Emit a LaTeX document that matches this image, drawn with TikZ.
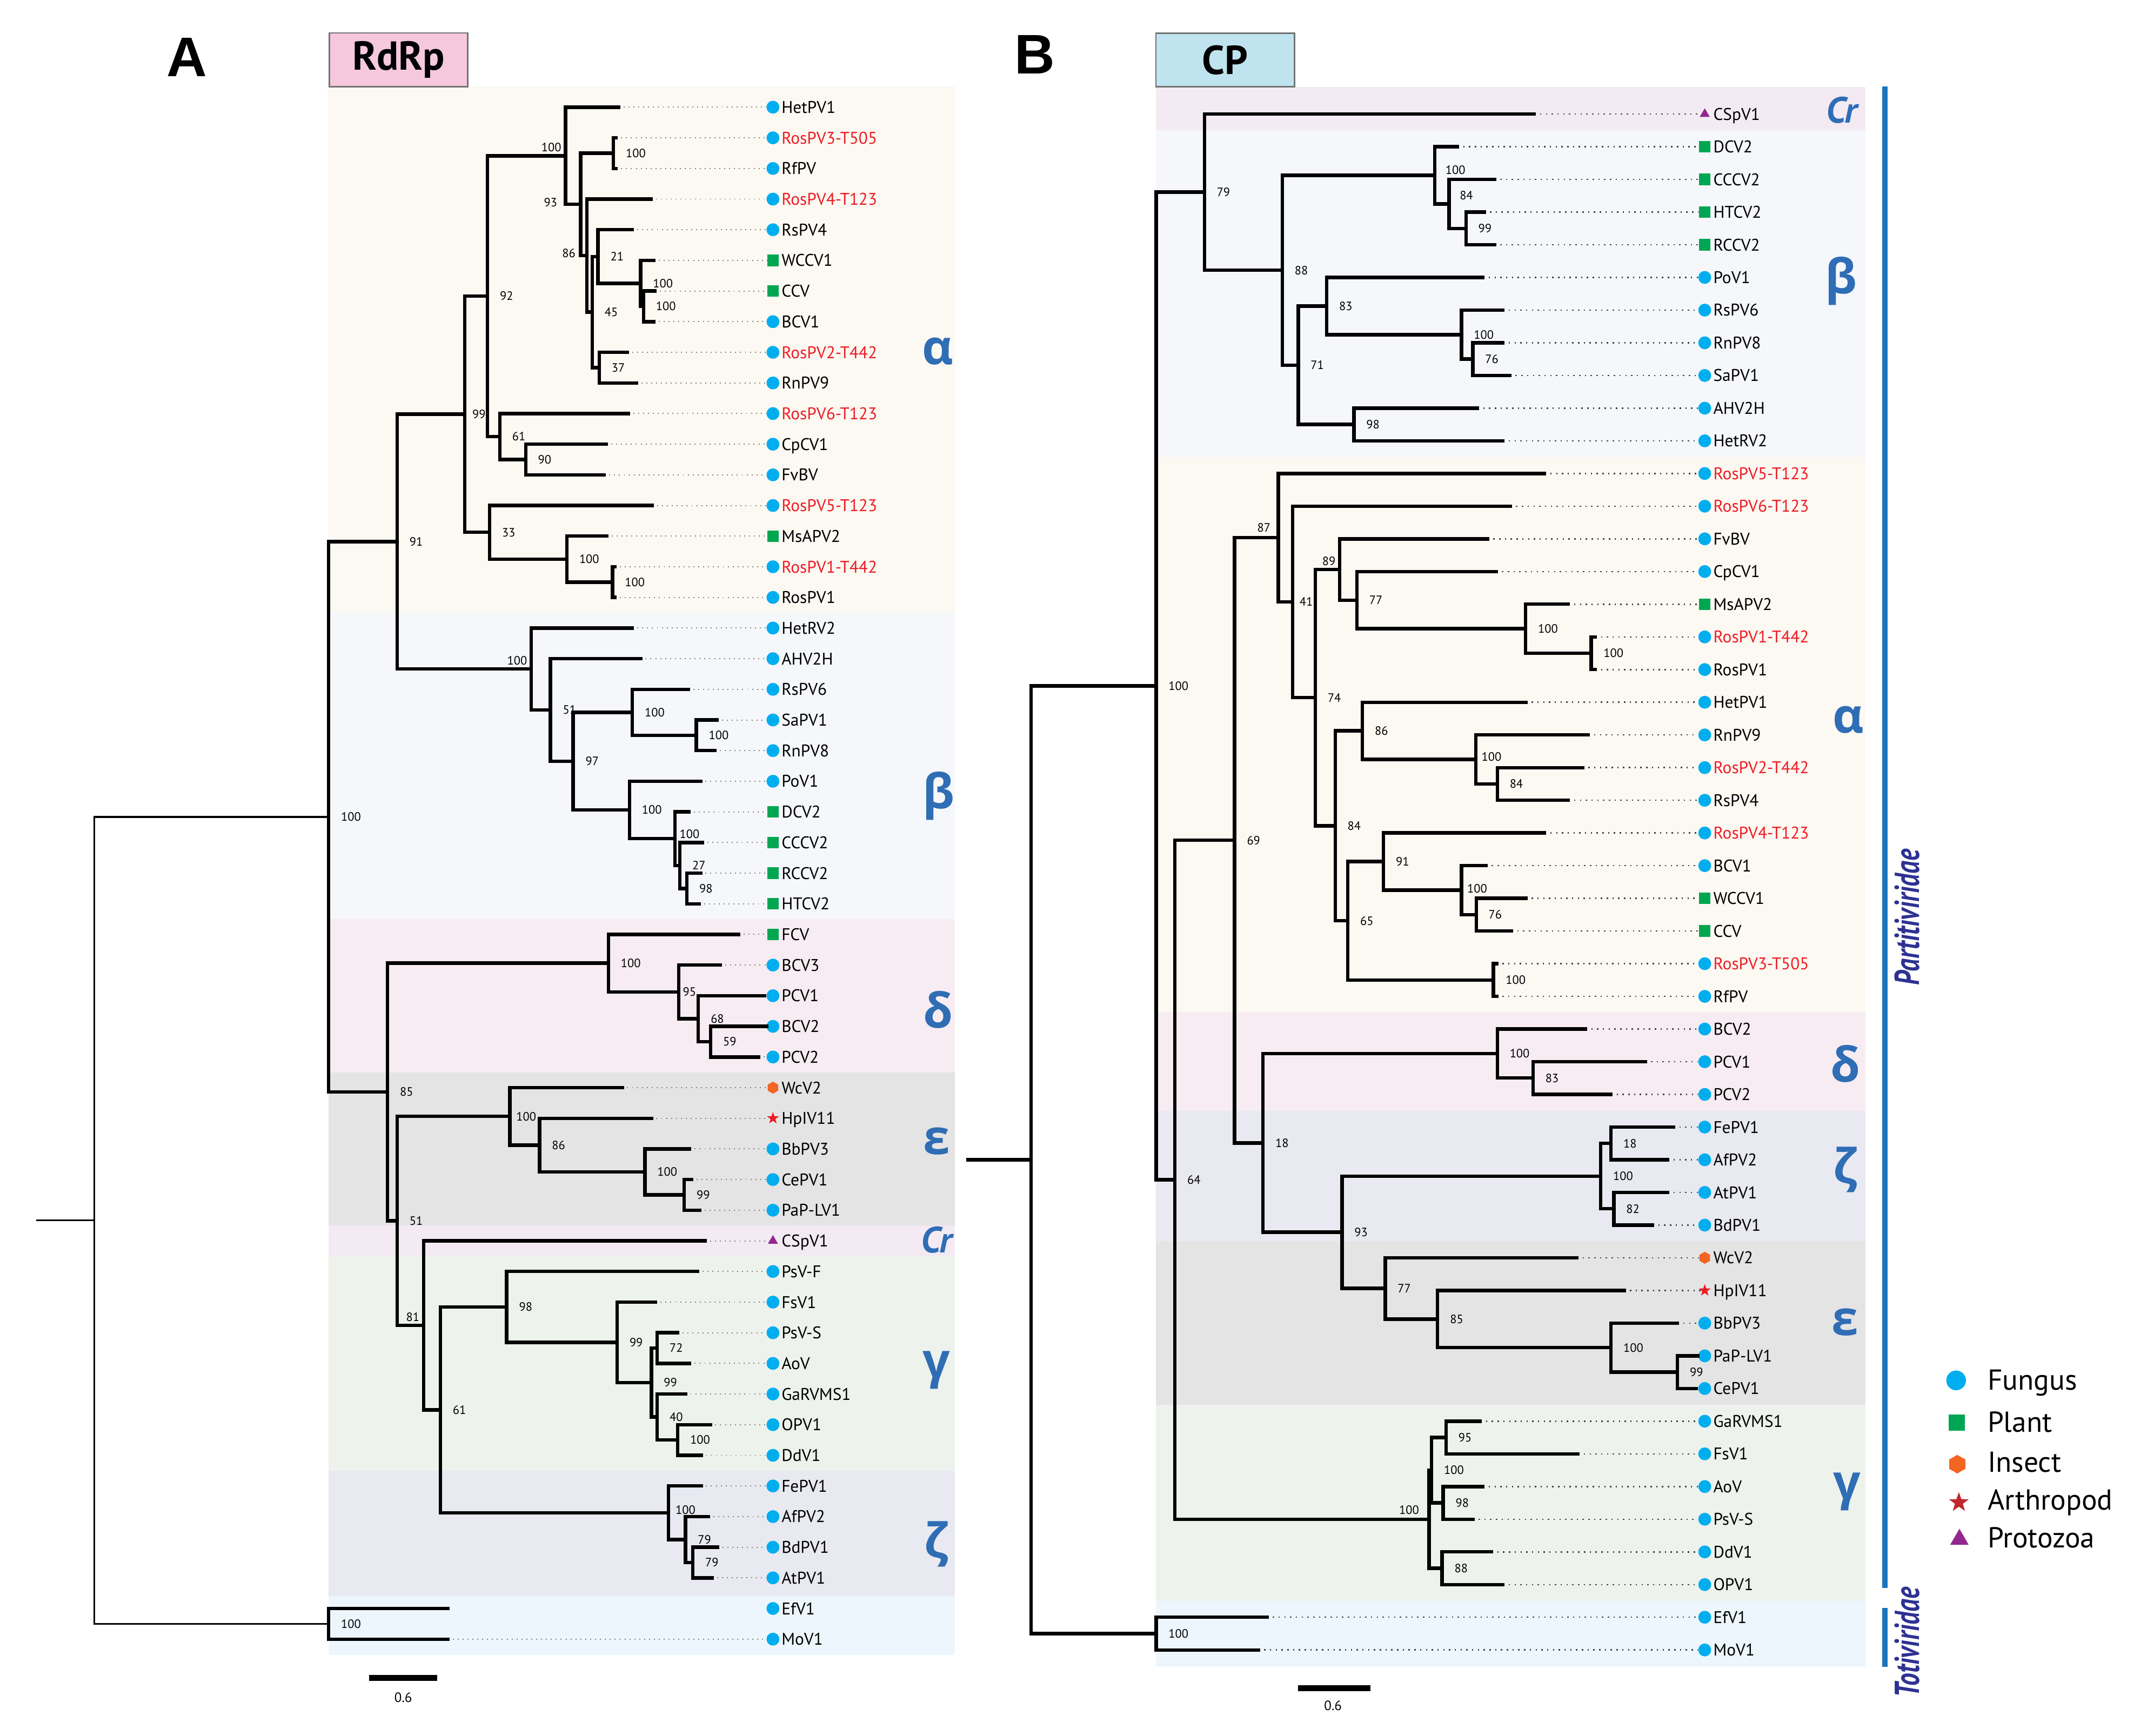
\documentclass[tikz,border=0pt]{standalone}
\usepackage{fontspec}
\usepackage{graphicx}
\setmainfont{PT Sans}
\newfontfamily\greekfont{Open Sans}
\newfontfamily\panelfont{Liberation Sans}
\usetikzlibrary{calc,shapes.geometric}

\definecolor{fungus}{HTML}{00AEEF}
\definecolor{plant}{HTML}{00A651}
\definecolor{insect}{HTML}{F26522}
\definecolor{arthro}{HTML}{ED1C24}
\definecolor{arthroleg}{HTML}{C1272D}
\definecolor{protozoa}{HTML}{92278F}
\definecolor{rosred}{HTML}{ED1C24}
\definecolor{cladeblue}{HTML}{2F6DB5}
\definecolor{famblue}{HTML}{1B75BC}
\definecolor{famtext}{HTML}{2E3192}
\definecolor{rdrppink}{HTML}{F6C8DE}
\definecolor{cpblue}{HTML}{BFE4EF}
\definecolor{bgalpha}{HTML}{FCF8F2}
\definecolor{bgbeta}{HTML}{F5F7FB}
\definecolor{bgdelta}{HTML}{F7ECF2}
\definecolor{bgeps}{HTML}{E4E4E4}
\definecolor{bgcr}{HTML}{F3EAF3}
\definecolor{bggamma}{HTML}{EEF2EC}
\definecolor{bgzeta}{HTML}{E8E9F1}
\definecolor{bgtoti}{HTML}{ECF6FC}

\tikzset{
  branch/.style={line width=1.8pt, line cap=rect},
  leaderA/.style={black!50, dotted, line width=0.55pt},
  leaderB/.style={black!75, line width=0.7pt, dash pattern=on 0.7pt off 2.3pt},
  tiplabel/.style={anchor=west, inner sep=0pt, text height=6.2pt, text depth=0pt, font=\fontsize{8.8}{10}\selectfont},
  bs/.style={inner sep=0pt, text height=4.4pt, text depth=0pt, font=\fontsize{6.3}{7}\selectfont},
  bsr/.style={anchor=west, xshift=2.2mm},
  bsa/.style={anchor=south east, xshift=-0.7mm, yshift=0.7mm},
  fungus/.style={circle, fill=fungus, inner sep=0pt, minimum size=2.35mm},
  plant/.style={rectangle, fill=plant, inner sep=0pt, minimum size=2.1mm},
  insect/.style={regular polygon, regular polygon sides=6, shape border rotate=30, fill=insect, inner sep=0pt, minimum size=2.2mm},
  arthropod/.style={star, star points=5, star point ratio=2.5, fill=arthro, inner sep=0pt, minimum size=2.3mm},
  protozoa/.style={regular polygon, regular polygon sides=3, fill=protozoa, inner sep=0pt, minimum size=2.1mm},
  cladetag/.style={text=cladeblue, inner sep=0pt, font=\greekfont\bfseries\fontsize{25}{25}\selectfont},
  crtag/.style={text=cladeblue, inner sep=0pt, font=\bfseries\itshape\fontsize{19}{19}\selectfont},
  famline/.style={famblue, line width=1mm},
  famlabel/.style={text=famtext, rotate=90, inner sep=0pt, font=\bfseries\itshape\fontsize{18}{18}\selectfont},
  headbox/.style={draw=black!55, line width=0.8pt, minimum width=25.3mm, minimum height=9.8mm, inner sep=0pt, font=\bfseries\fontsize{21}{21}\selectfont},
  panel/.style={inner sep=0pt, font=\panelfont\bfseries\fontsize{29}{29}\selectfont},
  legtext/.style={anchor=west, inner sep=0pt, text height=10.5pt, text depth=0pt, font=\fontsize{15}{16}\selectfont},
  scalebar/.style={line width=1.1mm},
  scalelabel/.style={inner sep=0pt, font=\fontsize{7}{8}\selectfont}
}

% tips: [label/leader options]{name}{row}{branch end}{host}{text}
\newcommand\tipA[6][]{%
  \coordinate (#2) at (#4,{78.3+22.38*#3});
  \node[#5] (#2m) at (564.5,{78.3+22.38*#3}) {};
  \node[tiplabel,#1] at (570.5,{78.3+22.38*#3}) {#6};
  \draw[leaderA,#1] (#2) -- (#2m.west);}
\newcommand\tipB[6][]{%
  \coordinate (#2) at (#4,{83.3+23.87*#3});
  \node[#5] (#2m) at (1245,{83.3+23.87*#3}) {};
  \node[tiplabel,#1] at (1251,{83.3+23.87*#3}) {#6};
  \draw[leaderB,#1] (#2) -- (#2m.west);}
% internal node: [style]{name}{x}{upper child}{lower child}{label pos}{support}
\newcommand\clade[7][]{%
  \coordinate (#2h) at ($(#4)!0.5!(#5)$);
  \coordinate (#2v) at (#3,0);
  \coordinate (#2) at (#2v |- #2h);
  \draw[branch,#1] (#4) -| (#2) |- (#5);
  \node[bs,#6] at (#2) {#7};}

\begin{document}
\begin{tikzpicture}[x=0.25mm, y=-0.25mm]
    \useasboundingbox (0,0) rectangle (1568,1268);

    % clade bands
    \foreach \c/\t/\b in {bgalpha/63/447.6, bgbeta/447.6/671.4, bgdelta/671.4/783.3, bgeps/783.3/895.2,
        bgcr/895.2/917.6, bggamma/917.6/1074.2, bgzeta/1074.2/1166, bgtoti/1166/1209}
        \fill[\c] (240,\t) rectangle (697.3,\b);
    \foreach \c/\t/\b in {bgcr/63.5/95.2, bgbeta/95.2/333.9, bgalpha/333.9/739.7, bgdelta/739.7/811.3,
        bgzeta/811.3/906.8, bgeps/906.8/1026.2, bggamma/1026.2/1169.4, bgtoti/1169.4/1217.3}
        \fill[\c] (844.3,\t) rectangle (1362.3,\b);

    % headers
    \node[panel] (pA) at (136.3,42) {A};
    \node[panel] (pB) at (755.5,39.7) {B};
    \node[headbox, fill=rdrppink] (hRdRp) at (291.1,43.7) {RdRp};
    \node[headbox, fill=cpblue] (hCP) at (894.8,43.8) {CP};

    % ---------- A: RdRp tree ----------
    \tipA{aHetPV1}{0}{451.8}{fungus}{HetPV1}
    \tipA[text=rosred]{aRosPV3}{1}{450}{fungus}{RosPV3-T505}
    \tipA{aRfPV}{2}{450}{fungus}{RfPV}
    \tipA[text=rosred]{aRosPV4}{3}{475.4}{fungus}{RosPV4-T123}
    \tipA{aRsPV4}{4}{461.8}{fungus}{RsPV4}
    \tipA{aWCCV1}{5}{477.5}{plant}{WCCV1}
    \tipA{aCCV}{6}{478.4}{plant}{CCV}
    \tipA{aBCV1}{7}{477.5}{fungus}{BCV1}
    \tipA[text=rosred]{aRosPV2}{8}{458}{fungus}{RosPV2-T442}
    \tipA{aRnPV9}{9}{464.8}{fungus}{RnPV9}
    \tipA[text=rosred]{aRosPV6}{10}{458.8}{fungus}{RosPV6-T123}
    \tipA{aCpCV1}{11}{442.8}{fungus}{CpCV1}
    \tipA{aFvBV}{12}{441.3}{fungus}{FvBV}
    \tipA[text=rosred]{aRosPV5}{13}{476.3}{fungus}{RosPV5-T123}
    \tipA{aMsAPV2}{14}{443}{plant}{MsAPV2}
    \tipA[text=rosred]{aRosPV1T}{15}{449}{fungus}{RosPV1-T442}
    \tipA{aRosPV1}{16}{449}{fungus}{RosPV1}
    \tipA{aHetRV2}{17}{461.8}{fungus}{HetRV2}
    \tipA{aAHV2H}{18}{467.8}{fungus}{AHV2H}
    \tipA{aRsPV6}{19}{502.6}{fungus}{RsPV6}
    \tipA{aSaPV1}{20}{523.7}{fungus}{SaPV1}
    \tipA{aRnPV8}{21}{522}{fungus}{RnPV8}
    \tipA{aPoV1}{22}{511.6}{fungus}{PoV1}
    \tipA{aDCV2}{23}{503.2}{plant}{DCV2}
    \tipA{aCCCV2}{24}{513}{plant}{CCCV2}
    \tipA{aRCCV2}{25}{511.6}{plant}{RCCV2}
    \tipA{aHTCV2}{26}{510.5}{plant}{HTCV2}
    \tipA{aFCV}{27}{539.4}{plant}{FCV}
    \tipA{aBCV3}{28}{526}{fungus}{BCV3}
    \tipA{aPCV1}{29}{558.4}{fungus}{PCV1}
    \tipA{aBCV2}{30}{560}{fungus}{BCV2}
    \tipA{aPCV2}{31}{554}{fungus}{PCV2}
    \tipA{aWcV2}{32}{454.4}{insect}{WcV2}
    \tipA{aHpIV11}{33}{475.7}{arthropod}{HpIV11}
    \tipA{aBbPV3}{34}{503.7}{fungus}{BbPV3}
    \tipA{aCePV1}{35}{505}{fungus}{CePV1}
    \tipA{aPaPLV1}{36}{511}{fungus}{PaP-LV1}
    \tipA{aCSpV1}{37}{515}{protozoa}{CSpV1}
    \tipA{aPsVF}{38}{509.6}{fungus}{PsV-F}
    \tipA{aFsV1}{39}{478.8}{fungus}{FsV1}
    \tipA{aPsVS}{40}{495}{fungus}{PsV-S}
    \tipA{aAoV}{41}{503.7}{fungus}{AoV}
    \tipA{aGaRVMS1}{42}{500.6}{fungus}{GaRVMS1}
    \tipA{aOPV1}{43}{518.7}{fungus}{OPV1}
    \tipA{aDdV1}{44}{512}{fungus}{DdV1}
    \tipA{aFePV1}{45}{512}{fungus}{FePV1}
    \tipA{aAfPV2}{46}{517.3}{fungus}{AfPV2}
    \tipA{aBdPV1}{47}{524}{fungus}{BdPV1}
    \tipA{aAtPV1}{48}{520}{fungus}{AtPV1}
    \tipA[draw=none]{aEfV1}{49}{327}{fungus}{EfV1}
    \tipA{aMoV1}{50}{327}{fungus}{MoV1}

    % alpha
    \clade{a100c}{470}{aCCV}{aBCV1}{bsr}{100}
    \clade{a100w}{467.8}{aWCCV1}{a100c}{bsr}{100}
    \clade{a21}{436.7}{aRsPV4}{a100w}{bsr}{21}
    \clade{a37}{437.6}{aRosPV2}{aRnPV9}{bsr}{37}
    \clade{a45}{432.5}{a21}{a37}{bsr}{45}
    \clade{a86}{428.5}{aRosPV4}{a45}{anchor=east,xshift=-2mm,yshift=0.4mm}{86}
    \clade{a100r}{448}{aRosPV3}{aRfPV}{bsr}{100}
    \clade{a93}{424}{a100r}{a86}{anchor=east,xshift=-4.2mm,yshift=0.4mm}{93}
    \clade{a100h}{413}{aHetPV1}{a93}{bsa}{100}
    \clade{a90}{383.9}{aCpCV1}{aFvBV}{bsr}{90}
    \clade{a61}{365}{aRosPV6}{a90}{bsr}{61}
    \clade{a92}{356}{a100h}{a61}{bsr}{92}
    \clade{a100p}{447.3}{aRosPV1T}{aRosPV1}{bsr}{100}
    \clade{a100m}{414}{aMsAPV2}{a100p}{bsr}{100}
    \clade{a33}{357.6}{aRosPV5}{a100m}{bsr}{33}
    \clade{a99}{339.5}{a92}{a33}{anchor=west,xshift=1.3mm}{99}
    % beta
    \clade{a100sa}{508.6}{aSaPV1}{aRnPV8}{bsr}{100}
    \clade{a100s}{461.8}{aRsPV6}{a100sa}{bsr}{100}
    \clade{a98b}{501.7}{aRCCV2}{aHTCV2}{bsr}{98}
    \clade{a27}{496.5}{aCCCV2}{a98b}{bsr}{27}
    \clade{a100d}{492.9}{aDCV2}{a27}{anchor=south west,xshift=0.8mm}{100}
    \clade{a100po}{459.7}{aPoV1}{a100d}{bsr}{100}
    \clade{a97}{418.6}{a100s}{a100po}{bsr}{97}
    \clade{a51b}{402}{aAHV2H}{a97}{bsr}{51}
    \clade{aBeta}{388}{aHetRV2}{a51b}{bsa}{100}
    \clade{a91}{290}{a99}{aBeta}{bsr}{91}
    % delta
    \clade{a59}{519}{aBCV2}{aPCV2}{bsr}{59}
    \clade{a68}{510}{aPCV1}{a59}{bsr}{68}
    \clade{a95}{495.6}{aBCV3}{a68}{anchor=west,xshift=0.7mm}{95}
    \clade{aDelta}{444.3}{aFCV}{a95}{bsr}{100}
    % epsilon
    \clade{a99e}{499.7}{aCePV1}{aPaPLV1}{bsr}{99}
    \clade{a100e}{471}{aBbPV3}{a99e}{bsr}{100}
    \clade{a86e}{394}{aHpIV11}{a100e}{bsr}{86}
    \clade{aEps}{372.4}{aWcV2}{a86e}{anchor=west,xshift=1.1mm}{100}
    % gamma
    \clade{a100o}{495}{aOPV1}{aDdV1}{bsr}{100}
    \clade{a40}{480}{aGaRVMS1}{a100o}{bsr}{40}
    \clade{a72}{480}{aPsVS}{aAoV}{bsr}{72}
    \clade{a99h}{475.7}{a72}{a40}{bsr}{99}
    \clade{a99g}{450.7}{aFsV1}{a99h}{bsr}{99}
    \clade{a98}{370}{aPsVF}{a99g}{bsr}{98}
    % zeta
    \clade{a79b}{506}{aBdPV1}{aAtPV1}{bsr}{79}
    \clade{a79a}{500.6}{aAfPV2}{a79b}{bsr}{79}
    \clade{aZeta}{488.3}{aFePV1}{a79a}{anchor=west,xshift=1.2mm,yshift=0.5mm}{100}
    % deeper nodes
    \clade{a61g}{321.6}{a98}{aZeta}{bsr}{61}
    \clade{a81}{309.4}{aCSpV1}{a61g}{bsa}{81}
    \clade{a51}{290}{aEps}{a81}{bsr}{51}
    \clade{a85}{283}{aDelta}{a51}{bsr}{85}
    \clade{aIn}{240}{a91}{a85}{bsr}{100}
    \clade{aToti}{240}{aEfV1}{aMoV1}{bsr}{100}
    \clade[line width=1pt]{aRoot}{68.9}{aIn}{aToti}{}{}
    \coordinate (aStub) at (27.2,0);
    \draw[branch, line width=1pt] (aRoot) -- (aRoot -| aStub);

    % clade names A
    \node[cladetag] (aTagAlpha) at (685,256.8) {α};
    \node[cladetag] (aTagBeta) at (685.3,581.5) {β};
    \node[cladetag] (aTagDelta) at (685.3,737.7) {δ};
    \node[cladetag] (aTagEps) at (684,833.5) {ε};
    \node[crtag] (aTagCr) at (684,905.8) {Cr};
    \node[cladetag] (aTagGamma) at (684,1001) {γ};
    \node[cladetag] (aTagZeta) at (684,1128) {ζ};

    % scale A
    \coordinate (aSL) at (269.5,1225.6);
    \coordinate (aSR) at (319.4,1225.6);
    \draw[scalebar] (aSL) -- (aSR);
    \node[scalelabel] (aScale) at (294.5,1240) {0.6};

    % ---------- B: CP tree ----------
    \tipB{bCSpV1}{0}{1120.5}{protozoa}{CSpV1}
    \tipB{bDCV2}{1}{1064.4}{plant}{DCV2}
    \tipB{bCCCV2}{2}{1091.4}{plant}{CCCV2}
    \tipB{bHTCV2}{3}{1083.9}{plant}{HTCV2}
    \tipB{bRCCV2}{4}{1091.4}{plant}{RCCV2}
    \tipB{bPoV1}{5}{1083}{fungus}{PoV1}
    \tipB{bRsPV6}{6}{1097.6}{fungus}{RsPV6}
    \tipB{bRnPV8}{7}{1097.6}{fungus}{RnPV8}
    \tipB{bSaPV1}{8}{1102.6}{fungus}{SaPV1}
    \tipB{bAHV2H}{9}{1079}{fungus}{AHV2H}
    \tipB{bHetRV2}{10}{1097.6}{fungus}{HetRV2}
    \tipB[text=rosred]{bRosPV5}{11}{1128}{fungus}{RosPV5-T123}
    \tipB[text=rosred]{bRosPV6}{12}{1103}{fungus}{RosPV6-T123}
    \tipB{bFvBV}{13}{1086.4}{fungus}{FvBV}
    \tipB{bCpCV1}{14}{1092.7}{fungus}{CpCV1}
    \tipB{bMsAPV2}{15}{1145.4}{plant}{MsAPV2}
    \tipB[text=rosred]{bRosPV1T}{16}{1165}{fungus}{RosPV1-T442}
    \tipB{bRosPV1}{17}{1165}{fungus}{RosPV1}
    \tipB{bHetPV1}{18}{1114.3}{fungus}{HetPV1}
    \tipB{bRnPV9}{19}{1160}{fungus}{RnPV9}
    \tipB[text=rosred]{bRosPV2}{20}{1155.8}{fungus}{RosPV2-T442}
    \tipB{bRsPV4}{21}{1145.4}{fungus}{RsPV4}
    \tipB[text=rosred]{bRosPV4}{22}{1128}{fungus}{RosPV4-T123}
    \tipB{bBCV1}{23}{1085.2}{fungus}{BCV1}
    \tipB{bWCCV1}{24}{1114.3}{plant}{WCCV1}
    \tipB{bCCV}{25}{1103.9}{plant}{CCV}
    \tipB[text=rosred]{bRosPV3}{26}{1093}{fungus}{RosPV3-T505}
    \tipB{bRfPV}{27}{1093}{fungus}{RfPV}
    \tipB{bBCV2}{28}{1157.9}{fungus}{BCV2}
    \tipB{bPCV1}{29}{1201.5}{fungus}{PCV1}
    \tipB{bPCV2}{30}{1176.5}{fungus}{PCV2}
    \tipB{bFePV1}{31}{1222.2}{fungus}{FePV1}
    \tipB{bAfPV2}{32}{1218}{fungus}{AfPV2}
    \tipB{bAtPV1}{33}{1218}{fungus}{AtPV1}
    \tipB{bBdPV1}{34}{1206.9}{fungus}{BdPV1}
    \tipB{bWcV2}{35}{1151.6}{insect}{WcV2}
    \tipB{bHpIV11}{36}{1186.1}{arthropod}{HpIV11}
    \tipB{bBbPV3}{37}{1225.1}{fungus}{BbPV3}
    \tipB{bPaPLV1}{38}{1240}{fungus}{PaP-LV1}
    \tipB{bCePV1}{39}{1238.8}{fungus}{CePV1}
    \tipB{bGaRVMS1}{40}{1081}{fungus}{GaRVMS1}
    \tipB{bFsV1}{41}{1152.5}{fungus}{FsV1}
    \tipB{bAoV}{42}{1083}{fungus}{AoV}
    \tipB{bPsVS}{43}{1075.6}{fungus}{PsV-S}
    \tipB{bDdV1}{44}{1089.3}{fungus}{DdV1}
    \tipB{bOPV1}{45}{1097.6}{fungus}{OPV1}
    \tipB{bEfV1}{46}{925.3}{fungus}{EfV1}
    \tipB{bMoV1}{47}{919}{fungus}{MoV1}

    % Cr + beta
    \clade{b99a}{1070.6}{bHTCV2}{bRCCV2}{bsr}{99}
    \clade{b84a}{1058.2}{bCCCV2}{b99a}{anchor=south west,xshift=1.9mm,yshift=0.75mm}{84}
    \clade{bDCV}{1047.8}{bDCV2}{b84a}{anchor=south west,xshift=1.9mm,yshift=0.15mm}{100}
    \clade{b76a}{1075.6}{bRnPV8}{bSaPV1}{bsr}{76}
    \clade{b100r}{1067.3}{bRsPV6}{b76a}{bsr}{100}
    \clade{b83}{968.9}{bPoV1}{b100r}{bsr}{83}
    \clade{b98}{988.8}{bAHV2H}{bHetRV2}{bsr}{98}
    \clade{b71}{948.1}{b83}{b98}{bsr}{71}
    \clade{b88}{936.5}{bDCV}{b71}{bsr}{88}
    \clade{b79}{879.6}{bCSpV1}{b88}{bsr}{79}
    % alpha
    \clade{b100p}{1162}{bRosPV1T}{bRosPV1}{bsr}{100}
    \clade{b100m}{1114.2}{bMsAPV2}{b100p}{bsr}{100}
    \clade{b77}{990.9}{bCpCV1}{b100m}{bsr}{77}
    \clade{b89}{978.4}{bFvBV}{b77}{bsa}{89}
    \clade{b84c}{1093.5}{bRosPV2}{bRsPV4}{bsr}{84}
    \clade{b100n}{1077.7}{bRnPV9}{b84c}{anchor=west,xshift=1mm,yshift=0.5mm}{100}
    \clade{b86}{995}{bHetPV1}{b100n}{bsr}{86}
    \clade{b76b}{1078.1}{bWCCV1}{bCCV}{bsr}{76}
    \clade{b100w}{1067.3}{bBCV1}{b76b}{anchor=west,xshift=1mm,yshift=0.3mm}{100}
    \clade{b91}{1010.4}{bRosPV4}{b100w}{bsr}{91}
    \clade{b100q}{1090.6}{bRosPV3}{bRfPV}{bsr}{100}
    \clade{b65}{984.3}{b91}{b100q}{bsr}{65}
    \clade{b84b}{975.1}{b86}{b65}{bsr}{84}
    \clade{b74}{960.6}{b89}{b84b}{bsr}{74}
    \clade{b41}{944}{bRosPV6}{b74}{anchor=west,xshift=1.2mm}{41}
    \clade{b87}{933.6}{bRosPV5}{b41}{anchor=south east,xshift=-1.35mm,yshift=0.95mm}{87}
    % delta
    \clade{b83d}{1119.6}{bPCV1}{bPCV2}{bsr}{83}
    \clade{bDelta}{1093.5}{bBCV2}{b83d}{bsr}{100}
    % zeta
    \clade{b18z}{1176.5}{bFePV1}{bAfPV2}{bsr}{18}
    \clade{b82}{1178.6}{bAtPV1}{bBdPV1}{bsr}{82}
    \clade{bZeta}{1169}{b18z}{b82}{bsr}{100}
    % epsilon
    \clade{b99c}{1225.1}{bPaPLV1}{bCePV1}{bsr}{99}
    \clade{b100e}{1176.5}{bBbPV3}{b99c}{bsr}{100}
    \clade{b85}{1049.9}{bHpIV11}{b100e}{bsr}{85}
    \clade{b77e}{1011.7}{bWcV2}{b85}{bsr}{77}
    \clade{b93}{980.1}{bZeta}{b77e}{bsr}{93}
    \clade{b18}{922.4}{bDelta}{b93}{bsr}{18}
    \clade{b69}{901.6}{b87}{b18}{bsr}{69}
    % gamma
    \clade{b95}{1056.1}{bGaRVMS1}{bFsV1}{bsr}{95}
    \clade{b98g}{1054}{bAoV}{bPsVS}{bsr}{98}
    \clade{bG1}{1045.5}{b95}{b98g}{bsr}{100}
    \clade{b88g}{1053.2}{bDdV1}{bOPV1}{bsr}{88}
    \clade{bGamma}{1043.6}{bG1}{b88g}{anchor=south east,xshift=-1.75mm,yshift=0.8mm}{100}
    % deeper nodes
    \clade{b64}{858}{b69}{bGamma}{bsr}{64}
    \clade{bIn}{844.3}{b79}{b64}{bsr}{100}
    \clade{bToti}{844.3}{bEfV1}{bMoV1}{bsr}{100}
    \clade{bRoot}{752.9}{bIn}{bToti}{}{}
    \coordinate (bStub) at (707,0);
    \draw[branch] (bRoot) -- (bRoot -| bStub);

    % clade names B
    \node[crtag] (bTagCr) at (1345,80.5) {Cr};
    \node[cladetag] (bTagBeta) at (1344.7,205.3) {β};
    \node[cladetag] (bTagAlpha) at (1350,525.7) {α};
    \node[cladetag] (bTagDelta) at (1347.6,776.9) {δ};
    \node[cladetag] (bTagZeta) at (1347.6,854.6) {ζ};
    \node[cladetag] (bTagEps) at (1347.6,966) {ε};
    \node[cladetag] (bTagGamma) at (1348.9,1089.5) {γ};

    % scale B
    \coordinate (bSL) at (948.1,1233.2);
    \coordinate (bSR) at (1000.9,1233.2);
    \draw[scalebar] (bSL) -- (bSR);
    \node[scalelabel] (bScale) at (973.5,1246) {0.6};

    % families
    \coordinate (famTop) at (1376.5,63.1);
    \coordinate (famBot) at (1376.5,1160);
    \coordinate (totTop) at (1376.5,1174.5);
    \coordinate (totBot) at (1376.5,1217.5);
    \draw[famline] (famTop) -- (famBot);
    \draw[famline] (totTop) -- (totBot);
    \node[famlabel] (famPart) at (1393,670) {\scalebox{0.74}[1]{Partitiviridae}};
    \node[famlabel] (famToti) at (1393,1199.5) {\scalebox{0.74}[1]{Totiviridae}};

    % legend
    \node[fungus, minimum size=3.6mm] (lgFungus) at (1428.6,1008.3) {};
    \node[legtext] (lgFungusT) at (1451.3,1008) {Fungus};
    \node[plant, minimum size=2.95mm] (lgPlant) at (1429,1039.2) {};
    \node[legtext] (lgPlantT) at (1451.3,1038.5) {Plant};
    \node[insect, minimum size=3.4mm] (lgInsect) at (1429.4,1069.5) {};
    \node[legtext] (lgInsectT) at (1451.3,1067.9) {Insect};
    \node[arthropod, fill=arthroleg, minimum size=3.8mm] (lgArthro) at (1430.6,1097.5) {};
    \node[legtext] (lgArthroT) at (1451.3,1095.5) {Arthropod};
    \node[protozoa, minimum size=3.9mm] (lgProto) at (1431,1124.5) {};
    \node[legtext] (lgProtoT) at (1451.3,1123) {Protozoa};
\end{tikzpicture}
\end{document}
